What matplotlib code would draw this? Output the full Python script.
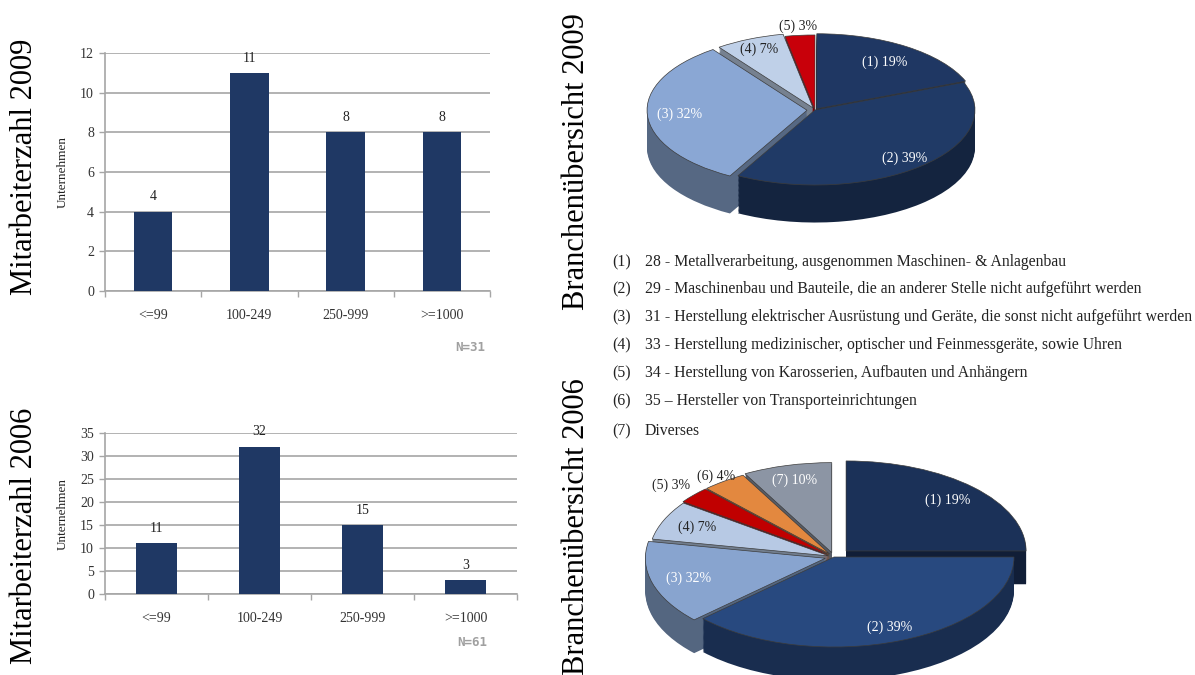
import matplotlib.pyplot as plt
import matplotlib.colors as mcolors
import numpy as np

plt.rcParams['font.family'] = ['Liberation Serif', 'DejaVu Serif']

# --- data ---
bar_categories = ['<=99', '100-249', '250-999', '>=1000']
staff_2009 = [4, 11, 8, 8]
staff_2006 = [11, 32, 15, 3]

sector_labels_2009 = ['(1) 19%', '(2) 39%', '(3) 32%', '(4) 7%', '(5) 3%']
sector_shares_2009 = [19, 39, 32, 7, 3]
sector_labels_2006 = ['(1) 19%', '(2) 39%', '(3) 32%', '(4) 7%', '(5) 3%', '(6) 4%', '(7) 10%']
sector_shares_2006 = [25, 38, 15, 7, 3, 4, 8]   # slice sizes as drawn in the picture

legend_codes = ['(1)', '(2)', '(3)', '(4)', '(5)', '(6)', '(7)']
legend_texts = [
    '28 - Metallverarbeitung, ausgenommen Maschinen- & Anlagenbau',
    '29 - Maschinenbau und Bauteile, die an anderer Stelle nicht aufgeführt werden',
    '31 - Herstellung elektrischer Ausrüstung und Geräte, die sonst nicht aufgeführt werden',
    '33 - Herstellung medizinischer, optischer und Feinmessgeräte, sowie Uhren',
    '34 - Herstellung von Karosserien, Aufbauten und Anhängern',
    '35 – Hersteller von Transporteinrichtungen',
    'Diverses',
]

NAVY = '#1f3864'
GRID = '#a6a6a6'
W, H = 1195, 675

fig = plt.figure(figsize=(W / 100, H / 100), dpi=100)


def px_rect(x0, y0, x1, y1):
    return [x0 / W, 1 - y1 / H, (x1 - x0) / W, (y1 - y0) / H]


def bar_panel(rect, values, ymax, step, width, n_text, n_pos):
    ax = fig.add_axes(rect)
    x = np.arange(len(values))
    ax.bar(x, values, width=width, color=NAVY, zorder=3)
    for xi, v in zip(x, values):
        ax.annotate(str(v), (xi, v), xytext=(0, 6), textcoords='offset points',
                    ha='center', va='bottom', fontsize=10, color='#222222')
    ax.set_xlim(-0.5, len(values) - 0.5)
    ax.set_ylim(0, ymax)
    ax.set_yticks(np.arange(0, ymax + 1, step))
    ax.set_xticks(x, bar_categories)
    ax.set_xticks(np.arange(-0.5, len(values)), minor=True)
    ax.tick_params(axis='x', which='major', length=0, pad=13, labelsize=10, labelcolor='#333333')
    ax.tick_params(axis='x', which='minor', length=4, width=1, color=GRID)
    ax.tick_params(axis='y', length=4, width=1, color=GRID, pad=4, labelsize=10, labelcolor='#333333')
    ax.grid(axis='y', color=GRID, lw=1.2, zorder=0)
    for s in ['top', 'right']:
        ax.spines[s].set_visible(False)
    for s in ['left', 'bottom']:
        ax.spines[s].set_color(GRID)
        ax.spines[s].set_linewidth(1.2)
    ax.set_ylabel('Unternehmen', fontsize=9.5, labelpad=8, color='#222222')
    fig.text(n_pos[0] / W, 1 - n_pos[1] / H, n_text, ha='center', va='center',
             fontsize=9, color='#a0a0a0', family='DejaVu Sans Mono', weight='bold')
    return ax


def shade(c, f=0.62):
    r, g, b = mcolors.to_rgb(c)
    return (r * f, g * f, b * f)


def pie_panel(rect, xlim, ylim, shares, labels, colors, explode, label_r, label_colors, depth):
    ax = fig.add_axes(rect)
    sides = [shade(c) for c in colors]
    n = 30
    for k in range(n):
        off = -depth * (1 - k / n)
        ax.pie(shares, colors=sides, explode=explode, startangle=90, counterclock=False,
               center=(0, off), wedgeprops=dict(linewidth=0))
    wedges, _ = ax.pie(shares, colors=colors, explode=explode, startangle=90,
                       counterclock=False, wedgeprops=dict(linewidth=0.5, edgecolor='#3c3c3c'))
    for w, lab, r, tc in zip(wedges, labels, label_r, label_colors):
        mid = np.deg2rad((w.theta1 + w.theta2) / 2)
        cx, cy = w.center
        ax.text(cx + r * np.cos(mid), cy + r * np.sin(mid), lab, ha='center', va='center',
                color=tc, fontsize=10)
    ax.set_aspect('auto')
    ax.set_xlim(xlim)
    ax.set_ylim(ylim)
    ax.axis('off')
    return ax


# --- bar charts ---
bar_panel(px_rect(105, 53, 490, 291), staff_2009, 12, 2, 0.4, 'N=31', (470, 347))
bar_panel(px_rect(105, 433, 517, 594), staff_2006, 35, 5, 0.39, 'N=61', (472, 643))

# --- pie charts ---
pie_panel(px_rect(620, 10, 1010, 240), (-1.219, 1.219), (-1.733, 1.333),
          sector_shares_2009, sector_labels_2009,
          ['#1f3763', '#203a66', '#8aa7d4', '#bfd0e8', '#c8000a'],
          [0.02, 0, 0.05, 0.03, 0.0],
          [0.75, 0.85, 0.8, 0.85, 1.12],
          ['white', 'white', 'white', '#222222', '#222222'],
          0.5)

pie_panel(px_rect(630, 445, 1030, 675), (-204 / 180, 196 / 180), (-118 / 90, 112 / 90),
          sector_shares_2006, sector_labels_2006,
          ['#1b3158', '#28497f', '#88a4cf', '#b7c9e4', '#c00000', '#e3883f', '#8c95a4'],
          [0.095, 0, 0.05, 0.03, 0.04, 0.04, 0.05],
          [0.8, 0.84, 0.79, 0.8, 1.17, 1.07, 0.83],
          ['white', 'white', 'white', '#222222', '#222222', '#222222', 'white'],
          0.37)

# --- sector legend ---
row_y = [262, 289, 317, 345, 373, 401, 431]
for code, txt, y in zip(legend_codes, legend_texts, row_y):
    fig.text(612 / W, 1 - y / H, code, ha='left', va='center', fontsize=11.3, color='#222222')
    fig.text(645 / W, 1 - y / H, txt, ha='left', va='center', fontsize=11.3, color='#222222')

# --- side titles ---
fig.text(25 / W, 1 - 167 / H, 'Mitarbeiterzahl 2009', rotation=90, ha='center', va='center', fontsize=22)
fig.text(25 / W, 1 - 536 / H, 'Mitarbeiterzahl 2006', rotation=90, ha='center', va='center', fontsize=22)
fig.text(577 / W, 1 - 162 / H, 'Branchenübersicht 2009', rotation=90, ha='center', va='center', fontsize=22)
fig.text(577 / W, 1 - 527 / H, 'Branchenübersicht 2006', rotation=90, ha='center', va='center', fontsize=22)

fig.savefig('out.png', dpi=100)
